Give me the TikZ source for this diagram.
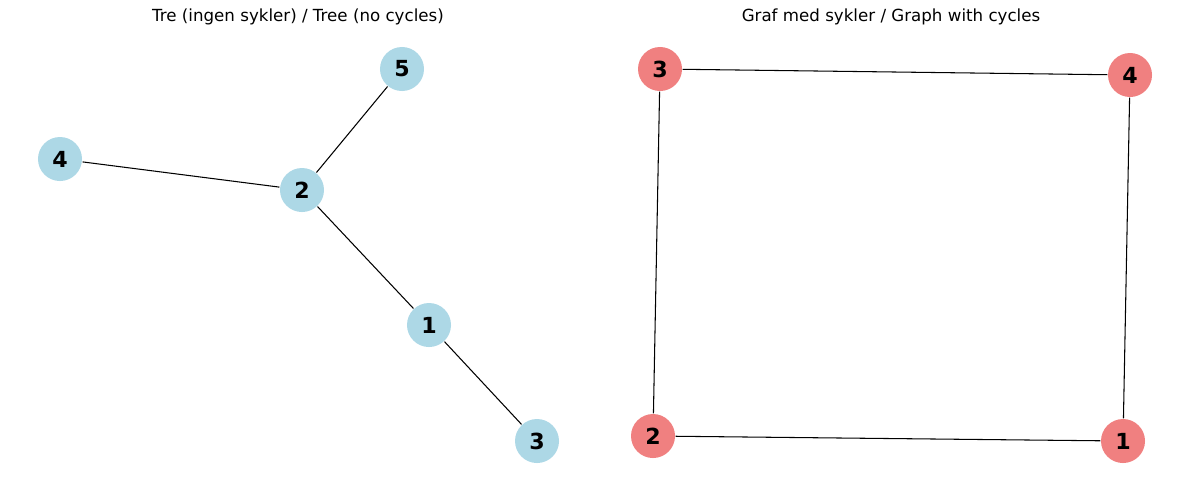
\documentclass[tikz,border=0pt]{standalone}
\usepackage{fontspec}
\setmainfont{DejaVu Sans}
\definecolor{treenode}{HTML}{ADD8E6}
\definecolor{cyclenode}{HTML}{F08080}
\begin{document}
\begin{tikzpicture}[x=0.01cm,y=-0.01cm,
  vtx/.style={circle,minimum size=0.44cm,inner sep=0pt,
    font=\fontsize{6.3pt}{7pt}\selectfont\bfseries},
  tvtx/.style={vtx,fill=treenode},
  cvtx/.style={vtx,fill=cyclenode},
  edge/.style={line width=0.3pt,black},
  title/.style={font=\fontsize{4.74pt}{5.5pt}\selectfont,inner sep=0pt}]
\useasboundingbox (0,0) rectangle (1189,490);
% panel titles
\node[title] (t1) at (298,17) {Tre (ingen sykler) / Tree (no cycles)};
\node[title] (t2) at (891,17) {Graf med sykler / Graph with cycles};
% tree
\node[tvtx] (a5) at (402,69) {5};
\node[tvtx] (a4) at (60,159) {4};
\node[tvtx] (a2) at (302,190) {2};
\node[tvtx] (a1) at (429,325) {1};
\node[tvtx] (a3) at (537,441) {3};
% cycle graph
\node[cvtx] (b3) at (660,69) {3};
\node[cvtx] (b4) at (1130,75) {4};
\node[cvtx] (b2) at (653,436) {2};
\node[cvtx] (b1) at (1123,441) {1};
\begin{scope}[on background layer/.try]
\end{scope}
\draw[edge] (a4) -- (a2);
\draw[edge] (a2) -- (a5);
\draw[edge] (a2) -- (a1);
\draw[edge] (a1) -- (a3);
\draw[edge] (b3) -- (b4);
\draw[edge] (b4) -- (b1);
\draw[edge] (b1) -- (b2);
\draw[edge] (b2) -- (b3);
\end{tikzpicture}
\end{document}
